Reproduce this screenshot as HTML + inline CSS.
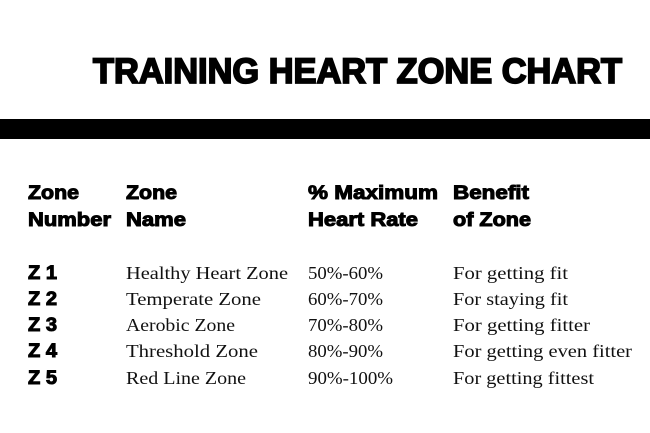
<!DOCTYPE html>
<html><head><style>
html,body{margin:0;padding:0;background:#fff;width:650px;height:433px;overflow:hidden}
svg{display:block}
.h{font-family:"Liberation Sans",sans-serif;font-weight:bold;fill:#000}
.s{font-family:"Liberation Serif",serif;fill:#111;font-size:18px}
</style></head><body>
<svg width="650" height="433" viewBox="0 0 650 433">
<text class="h" x="93" y="83" font-size="35" textLength="529" lengthAdjust="spacingAndGlyphs" stroke="#000" stroke-width="1.8">TRAINING HEART ZONE CHART</text>
<rect x="0" y="119" width="650" height="20" fill="#000"/>
<g class="h" font-size="19" stroke="#000" stroke-width="1">
<text x="28" y="199" textLength="51" lengthAdjust="spacingAndGlyphs">Zone</text>
<text x="28" y="226" textLength="83" lengthAdjust="spacingAndGlyphs">Number</text>
<text x="126" y="199" textLength="51" lengthAdjust="spacingAndGlyphs">Zone</text>
<text x="126" y="226" textLength="60" lengthAdjust="spacingAndGlyphs">Name</text>
<text x="308" y="199" textLength="130" lengthAdjust="spacingAndGlyphs">% Maximum</text>
<text x="308" y="226" textLength="110" lengthAdjust="spacingAndGlyphs">Heart Rate</text>
<text x="453" y="199" textLength="76" lengthAdjust="spacingAndGlyphs">Benefit</text>
<text x="453" y="226" textLength="78" lengthAdjust="spacingAndGlyphs">of Zone</text>
<text x="28" y="279" textLength="29" lengthAdjust="spacingAndGlyphs">Z 1</text>
<text x="28" y="305" textLength="29" lengthAdjust="spacingAndGlyphs">Z 2</text>
<text x="28" y="331" textLength="29" lengthAdjust="spacingAndGlyphs">Z 3</text>
<text x="28" y="357" textLength="29" lengthAdjust="spacingAndGlyphs">Z 4</text>
<text x="28" y="384" textLength="29" lengthAdjust="spacingAndGlyphs">Z 5</text>
</g>
<g class="s">
<text x="126" y="279" textLength="162" lengthAdjust="spacingAndGlyphs">Healthy Heart Zone</text>
<text x="126" y="305" textLength="135" lengthAdjust="spacingAndGlyphs">Temperate Zone</text>
<text x="126" y="331" textLength="109" lengthAdjust="spacingAndGlyphs">Aerobic Zone</text>
<text x="126" y="357" textLength="132" lengthAdjust="spacingAndGlyphs">Threshold Zone</text>
<text x="126" y="384" textLength="120" lengthAdjust="spacingAndGlyphs">Red Line Zone</text>
<text x="308" y="279" textLength="75" lengthAdjust="spacingAndGlyphs">50%-60%</text>
<text x="308" y="305" textLength="75" lengthAdjust="spacingAndGlyphs">60%-70%</text>
<text x="308" y="331" textLength="75" lengthAdjust="spacingAndGlyphs">70%-80%</text>
<text x="308" y="357" textLength="75" lengthAdjust="spacingAndGlyphs">80%-90%</text>
<text x="308" y="384" textLength="85" lengthAdjust="spacingAndGlyphs">90%-100%</text>
<text x="453" y="279" textLength="115" lengthAdjust="spacingAndGlyphs">For getting fit</text>
<text x="453" y="305" textLength="115" lengthAdjust="spacingAndGlyphs">For staying fit</text>
<text x="453" y="331" textLength="137" lengthAdjust="spacingAndGlyphs">For getting fitter</text>
<text x="453" y="357" textLength="179" lengthAdjust="spacingAndGlyphs">For getting even fitter</text>
<text x="453" y="384" textLength="141" lengthAdjust="spacingAndGlyphs">For getting fittest</text>
</g>
</svg>
</body></html>
